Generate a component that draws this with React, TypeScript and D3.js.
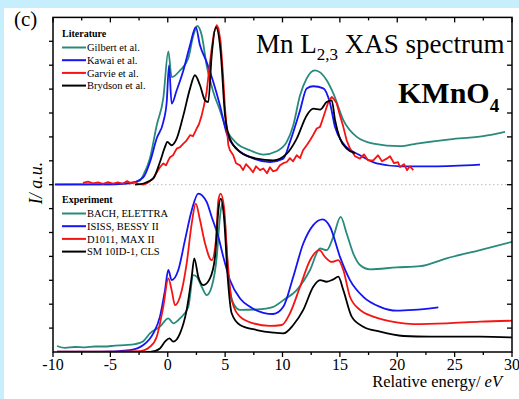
import React from 'react';
import * as d3 from 'd3';

type Pt = [number, number];

// energy (eV) and intensity (a.u.)
const energyTicks = [-10, -5, 0, 5, 10, 15, 20, 25, 30];
const energyMinor = [-7.5, -2.5, 2.5, 7.5, 12.5, 17.5, 22.5, 27.5];
const intensityTicks = [1, 2, 3, 4, 5, 6, 7, 8, 9, 10, 11, 12, 13];

const litNames = ['Gilbert et al.', 'Kawai et al.', 'Garvie et al.', 'Brydson et al.'];
const expNames = ['BACH, ELETTRA', 'ISISS, BESSY II', 'D1011, MAX II', 'SM 10ID-1, CLS'];
const colors = ['#278a7b', '#1414f5', '#f51414', '#000000'];

const gilbert: Pt[] = [
  [-9.83, 7.0], [-5.9, 7.01], [-3.29, 7.08], [-2.42, 7.17], [-2.13, 7.4], [-1.55, 8.11],
  [-0.96, 9.49], [-0.39, 10.61], [0.05, 12.58], [0.34, 11.5], [1.07, 11.78], [1.79, 12.29],
  [2.23, 13.25], [2.58, 13.64], [2.96, 13.25], [3.39, 11.99], [3.97, 10.88], [4.55, 10.11],
  [5.14, 9.28], [6.01, 8.73], [7.17, 8.44], [8.33, 8.26], [9.49, 8.4], [10.37, 8.79],
  [10.94, 9.49], [11.53, 10.74], [12.11, 11.45], [12.83, 11.78], [13.85, 11.37], [14.43, 10.82],
  [15.3, 9.7], [16.47, 9.0], [17.91, 8.72], [20.24, 8.61], [21.7, 8.72], [24.6, 8.9],
  [27.5, 9.03], [29.39, 9.21],
];

const kawai: Pt[] = [
  [-9.83, 7.01], [-5.9, 7.01], [-3.29, 7.06], [-2.13, 7.31], [-1.55, 7.95], [-0.96, 8.94],
  [-0.39, 9.62], [-0.09, 10.46], [0.11, 11.99], [0.34, 10.39], [0.78, 10.95], [1.36, 11.78],
  [1.94, 12.83], [2.44, 13.59], [2.81, 12.83], [3.39, 12.13], [3.97, 11.3], [4.55, 10.32],
  [5.14, 9.14], [6.01, 8.51], [7.17, 8.16], [8.91, 7.95], [10.07, 8.09], [10.65, 8.79],
  [11.53, 10.11], [12.11, 11.03], [12.68, 11.12], [13.56, 11.03], [14.14, 10.41], [14.58, 9.41],
  [15.3, 8.72], [16.75, 8.23], [18.21, 7.89], [20.24, 7.77], [23.14, 7.77], [27.21, 7.84],
];

const garvie: Pt[] = [
  [-7.39, 7.08], [-6.95, 7.13], [-6.51, 7.06], [-6.08, 7.1], [-5.64, 7.04], [-5.21, 7.11],
  [-4.77, 7.05], [-4.34, 7.1], [-3.9, 7.04], [-3.55, 7.15], [-3.2, 7.06], [-2.85, 7.1],
  [-2.51, 7.02], [-2.13, 7.0], [-1.81, 7.06], [-1.55, 7.15], [-1.26, 7.27], [-0.96, 7.52],
  [-0.68, 7.73], [-0.39, 7.89], [-0.15, 7.81], [0.05, 8.02], [0.2, 8.15], [0.46, 8.23],
  [0.78, 8.51], [1.07, 8.57], [1.36, 8.72], [1.59, 8.82], [1.94, 9.07], [2.2, 9.03],
  [2.52, 9.35], [2.72, 9.53], [2.96, 9.9], [3.16, 10.32], [3.39, 10.88], [3.6, 11.78],
  [3.83, 12.69], [4.03, 13.37], [4.27, 13.67], [4.42, 13.54], [4.61, 12.97], [4.82, 11.58],
  [4.99, 10.18], [5.28, 8.65], [5.42, 8.44], [5.71, 8.23], [5.95, 7.9], [6.3, 7.81],
  [6.56, 7.61], [6.82, 7.86], [7.17, 7.68], [7.43, 7.52], [7.69, 7.77], [8.04, 7.61],
  [8.33, 7.68], [8.65, 7.48], [8.91, 7.73], [9.17, 7.56], [9.49, 7.61], [9.78, 7.81],
  [10.07, 7.9], [10.37, 7.95], [10.65, 8.11], [10.92, 7.98], [11.24, 8.23], [11.53, 8.11],
  [11.79, 8.44], [12.11, 8.65], [12.4, 8.86], [12.66, 9.07], [12.98, 9.35], [13.27, 9.42],
  [13.53, 9.78], [13.85, 10.25], [14.05, 10.53], [14.29, 10.67], [14.49, 10.57], [14.72, 10.41],
  [15.01, 9.9], [15.3, 9.42], [15.59, 8.86], [15.88, 8.51], [16.32, 8.19], [16.75, 8.09],
  [17.1, 8.27], [17.45, 8.02], [17.91, 8.02], [18.32, 8.23], [18.67, 7.98], [19.08, 8.09],
  [19.37, 8.19], [19.72, 7.9], [20.07, 7.94], [20.24, 7.74], [20.59, 7.86], [20.85, 7.61],
  [21.11, 7.77], [21.4, 7.61],
];

const brydson: Pt[] = [
  [-2.85, 7.0], [-2.13, 7.05], [-1.26, 7.26], [-0.68, 7.95], [-0.24, 8.58], [-0.04, 8.79],
  [0.34, 8.65], [0.78, 8.93], [1.36, 9.9], [1.94, 11.02], [2.37, 11.58], [2.81, 11.16],
  [3.25, 10.53], [3.53, 10.46], [3.83, 12.41], [4.2, 13.59], [4.61, 12.55], [4.99, 9.9],
  [5.42, 8.93], [6.3, 8.37], [7.75, 8.09], [9.2, 8.02], [10.37, 8.3], [11.24, 8.93],
  [12.11, 9.9], [12.68, 10.18], [13.27, 10.14], [13.85, 10.46], [14.29, 10.53], [14.58, 9.7],
  [15.01, 8.93], [15.59, 8.51], [16.32, 8.32],
];

const bach: Pt[] = [
  [-9.65, 0.25], [-8.95, 0.17], [-8.08, 0.21], [-7.21, 0.19], [-6.34, 0.23], [-5.47, 0.23],
  [-4.6, 0.27], [-3.73, 0.29], [-2.85, 0.33], [-2.16, 0.44], [-1.55, 0.78], [-0.68, 1.06],
  [0.05, 1.41], [0.48, 1.2], [1.07, 1.41], [1.79, 1.89], [2.23, 3.22], [2.52, 3.15],
  [2.96, 2.73], [3.39, 2.38], [3.83, 2.73], [4.27, 3.98], [4.55, 5.65], [4.75, 6.21],
  [4.99, 5.38], [5.28, 3.15], [5.71, 2.04], [6.3, 1.76], [7.75, 1.78], [9.2, 1.89],
  [10.07, 2.17], [11.24, 2.59], [12.4, 3.43], [13.27, 4.33], [13.85, 4.26], [14.43, 4.82],
  [15.07, 5.65], [15.59, 4.96], [16.17, 4.12], [16.75, 3.64], [17.63, 3.46], [19.95, 3.54],
  [21.98, 3.59], [24.31, 3.92], [27.21, 4.26], [30.0, 4.61],
];

const isiss: Pt[] = [
  [-9.65, 0.01], [-5.9, 0.01], [-3.29, 0.08], [-2.13, 0.29], [-1.26, 0.78], [-0.68, 1.48],
  [-0.24, 2.59], [0.05, 3.43], [0.34, 3.01], [0.92, 3.43], [1.5, 4.68], [2.09, 5.93],
  [2.66, 6.63], [3.39, 6.28], [3.83, 5.65], [4.41, 4.82], [4.84, 3.98], [5.42, 3.01],
  [6.3, 2.24], [7.17, 1.89], [8.33, 1.64], [9.2, 1.59], [10.07, 1.89], [10.94, 3.15],
  [11.81, 4.54], [12.68, 5.31], [13.5, 5.55], [14.14, 5.24], [15.01, 3.98], [15.88, 3.01],
  [17.04, 2.31], [18.5, 1.89], [19.95, 1.73], [21.4, 1.76], [23.58, 1.87],
];

const d1011: Pt[] = [
  [-9.65, 0.01], [-5.9, 0.01], [-2.42, 0.04], [-1.55, 0.22], [-0.96, 0.64], [-0.39, 1.89],
  [0.05, 3.08], [0.34, 2.59], [0.63, 1.96], [1.07, 2.31], [1.65, 3.71], [2.09, 5.38],
  [2.44, 6.21], [2.81, 5.52], [3.25, 4.54], [3.83, 3.84], [4.2, 4.68], [4.41, 6.35],
  [4.61, 6.63], [4.9, 6.07], [5.19, 3.98], [5.57, 2.17], [6.3, 1.48], [7.46, 1.2],
  [8.91, 1.09], [9.93, 1.13], [10.65, 1.62], [11.53, 2.73], [12.4, 3.84], [13.21, 4.26],
  [13.7, 3.98], [14.29, 3.77], [14.86, 3.84], [15.3, 3.43], [15.88, 2.31], [16.75, 1.76],
  [17.91, 1.48], [19.95, 1.24], [21.4, 1.17], [24.31, 1.2], [27.21, 1.27], [30.0, 1.31],
];

const sm10id: Pt[] = [
  [-2.42, 0.0], [-1.55, 0.0], [-0.68, 0.15], [-0.24, 0.43], [0.14, 0.57], [0.48, 0.43],
  [1.07, 0.78], [1.65, 1.76], [2.09, 3.15], [2.31, 3.92], [2.66, 3.15], [3.1, 2.8],
  [3.68, 3.08], [4.12, 3.98], [4.41, 5.93], [4.61, 6.42], [4.9, 5.65], [5.22, 3.15],
  [5.57, 1.62], [6.3, 1.13], [7.75, 0.92], [9.2, 0.81], [10.07, 0.78], [10.94, 1.13],
  [11.81, 1.76], [12.68, 2.73], [13.27, 3.01], [13.85, 2.94], [14.43, 3.04], [14.86, 3.15],
  [15.3, 2.59], [16.03, 1.48], [17.04, 1.06], [18.5, 0.85], [20.53, 0.67], [22.85, 0.64],
  [27.21, 0.64], [30.0, 0.61],
];

const literature = [gilbert, kawai, garvie, brydson];
const experiment = [bach, isiss, d1011, sm10id];

const W = 519;
const H = 399;
const left = 53, right = 512, top = 17.4, bottom = 352;
const serif = '"Liberation Serif", "Times New Roman", serif';

export default function App() {
  const x = d3.scaleLinear().domain([-10, 30]).range([left, right]);
  const y = d3.scaleLinear().domain([0, 14]).range([bottom, top]);

  const smooth = d3.line<Pt>().x(d => x(d[0])).y(d => y(d[1])).curve(d3.curveMonotoneX);
  const jagged = d3.line<Pt>().x(d => x(d[0])).y(d => y(d[1]));

  const legend = (title: string, names: string[], y0: number) => (
    <g fontFamily={serif}>
      <text x={62} y={y0} fontSize={10} fontWeight="bold">{title}</text>
      {names.map((n, i) => {
        const ly = y0 + 10.5 + i * 12.7;
        return (
          <g key={n}>
            <line x1={62} x2={86} y1={ly} y2={ly} stroke={colors[i]} strokeWidth={2} />
            <text x={87} y={ly + 3.6} fontSize={10.5}>{n}</text>
          </g>
        );
      })}
    </g>
  );

  return (
    <svg width={W} height={H} style={{ position: 'absolute', left: 0, top: 0 }}>
      <rect width={W} height={H} fill="#c6eefc" />
      <rect x={4} y={8} width={W - 4} height={H - 8} fill="#ffffff" />

      <defs>
        <clipPath id="plot">
          <rect x={left} y={top} width={right - left} height={bottom - top} />
        </clipPath>
      </defs>

      {/* separator between the two panels */}
      <line x1={left} x2={right} y1={y(7)} y2={y(7)} stroke="#bbb" strokeWidth={1} strokeDasharray="1.5,2.5" />

      <g clipPath="url(#plot)" fill="none" strokeWidth={1.8} strokeLinejoin="round">
        {literature.map((s, i) => (
          <path key={'l' + i} d={(i === 2 ? jagged(s) : smooth(s)) || ''} stroke={colors[i]} />
        ))}
        {experiment.map((s, i) => (
          <path key={'e' + i} d={smooth(s) || ''} stroke={colors[i]} />
        ))}
      </g>

      {/* frame */}
      <rect x={left} y={top} width={right - left} height={bottom - top} fill="none" stroke="#000" strokeWidth={1.5} />

      {energyTicks.map(t => (
        <g key={'xt' + t}>
          <line x1={x(t)} x2={x(t)} y1={bottom} y2={bottom + 5} stroke="#000" strokeWidth={1.3} />
          <line x1={x(t)} x2={x(t)} y1={top} y2={top + 5} stroke="#000" strokeWidth={1.3} />
          <text x={x(t)} y={370} textAnchor="middle" fontSize={16} fontFamily={serif}>{t}</text>
        </g>
      ))}
      {energyMinor.map(t => (
        <g key={'xm' + t}>
          <line x1={x(t)} x2={x(t)} y1={bottom} y2={bottom + 3} stroke="#000" strokeWidth={1.3} />
          <line x1={x(t)} x2={x(t)} y1={top} y2={top + 3} stroke="#000" strokeWidth={1.3} />
        </g>
      ))}
      {intensityTicks.map(t => (
        <g key={'yt' + t}>
          <line x1={left - 4} x2={left} y1={y(t)} y2={y(t)} stroke="#000" strokeWidth={1.3} />
          <line x1={right - 5} x2={right} y1={y(t)} y2={y(t)} stroke="#000" strokeWidth={1.3} />
        </g>
      ))}

      <text x={502} y={387} textAnchor="end" fontSize={16.5} fontFamily={serif}>
        Relative energy/ <tspan fontStyle="italic">eV</tspan>
      </text>
      <text transform={`translate(42,${183}) rotate(-90)`} textAnchor="middle" fontSize={18} fontStyle="italic" fontFamily={serif}>
        I/ a.u.
      </text>

      <text x={14} y={26} fontSize={21} fontFamily={serif}>(c)</text>

      <text x={256} y={53} fontSize={27} fontFamily={serif}>
        Mn L<tspan dy={7} fontSize={17}>2,3</tspan><tspan dy={-7}> XAS spectrum</tspan>
      </text>
      <text x={398} y={103} fontSize={30} fontWeight="bold" fontFamily={serif}>
        KMnO<tspan dy={9} fontSize={19}>4</tspan>
      </text>

      {legend('Literature', litNames, 37)}
      {legend('Experiment', expNames, 203)}
    </svg>
  );
}
